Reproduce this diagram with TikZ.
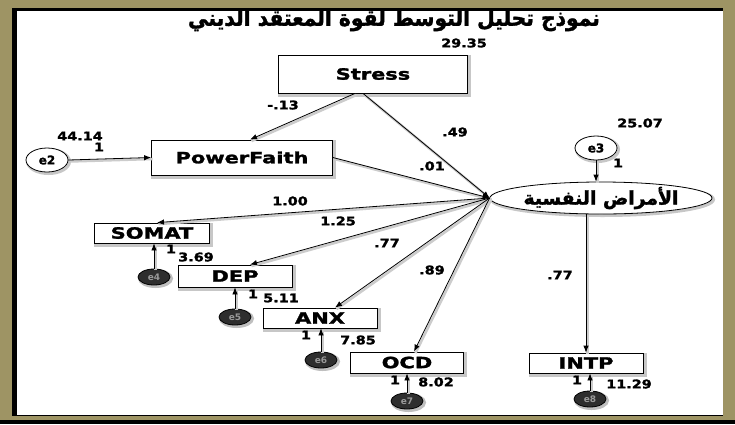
\documentclass[tikz,border=0pt]{standalone}
\usepackage{fontspec}
\usepackage{graphicx}
\setmainfont{DejaVu Sans}
\newfontfamily\heavy[FakeBold=1.6]{DejaVu Sans Bold}
\newfontfamily\arabicheavy[Script=Arabic,FakeBold=1.6]{DejaVu Sans Bold}
\TeXXeTstate=1
\usetikzlibrary{shapes.geometric,arrows.meta}
\definecolor{frameolive}{RGB}{158,148,100}
% horizontally stretched heavy lettering
\newcommand{\sx}[1]{\scalebox{1.35}[1]{\heavy #1}}
\newcommand{\nx}[1]{\scalebox{1.2}[1]{\heavy #1}}
\begin{document}
\begin{tikzpicture}[x=1pt,y=-1pt,
  box/.style={rectangle, draw, line width=0.8pt, inner sep=0pt, fill=white,
    font=\fontsize{15.5}{15.5}\selectfont,
    preaction={draw=black!22, line width=4pt, transform canvas={shift={(1.5pt,-1.5pt)}}}},
  errbig/.style={ellipse, draw, line width=0.8pt, fill=white, inner sep=0pt,
    minimum width=42pt, minimum height=24pt, font=\fontsize{12}{12}\selectfont,
    preaction={draw=black!22, line width=3pt, transform canvas={shift={(1.5pt,-1.5pt)}}}},
  errsm/.style={ellipse, draw, line width=0.8pt, fill=black!82, text=black!40, inner sep=0pt,
    minimum width=32pt, minimum height=16pt, font=\fontsize{9}{9}\bfseries,
    preaction={draw=black!25, line width=3pt, transform canvas={shift={(1.5pt,-1.5pt)}}}},
  num/.style={inner sep=0pt, font=\fontsize{12}{12}\selectfont},
  conn/.style={line width=0.8pt, -{Latex[length=7pt,width=5.5pt]},
    preaction={draw=black!20, line width=2.5pt, -, transform canvas={shift={(1.5pt,-1.5pt)}}}}
]
\useasboundingbox (0,0) rectangle (735,424);
% frame
\fill[frameolive] (0,0) rectangle (735,424);
\fill[black] (0,420) rectangle (735,424);
\fill[black] (12,8) rectangle (723,416);
\fill[white] (17,11) rectangle (723,415);

% title
\node[inner sep=0pt] (title) at (394,20)
  {\resizebox{412pt}{17pt}{\arabicheavy\beginR نموذج تحليل التوسط لقوة المعتقد الديني\endR}};

% observed and latent variables
\node[box, minimum width=189pt, minimum height=38pt] (stress) at (373,74) {\sx{Stress}};
\node[box, minimum width=181pt, minimum height=35pt] (pf) at (242,157.5) {\sx{PowerFaith}};
\node[ellipse, draw, line width=0.8pt, fill=white, inner sep=0pt,
  minimum width=222pt, minimum height=32pt,
  preaction={draw=black!22, line width=3pt, transform canvas={shift={(1.5pt,-1.5pt)}}}] (lat) at (601,198)
  {\resizebox{155pt}{!}{\arabicheavy\beginR الأمراض النفسية\endR}};
\node[box, minimum width=115pt, minimum height=20pt] (somat) at (152,233) {\sx{SOMAT}};
\node[box, minimum width=114pt, minimum height=22pt] (dep) at (235,276) {\sx{DEP}};
\node[box, minimum width=114pt, minimum height=20pt] (anx) at (320,318) {\sx{ANX}};
\node[box, minimum width=113pt, minimum height=21pt] (ocd) at (407,362.5) {\sx{OCD}};
\node[box, minimum width=114pt, minimum height=20pt] (intp) at (586,363) {\sx{INTP}};

% error terms
\node[errbig] (e2) at (47,160) {\heavy e2};
\node[errbig] (e3) at (596,148) {\heavy e3};
\node[errsm] (e4) at (154,277) {e4};
\node[errsm] (e5) at (235,317) {e5};
\node[errsm] (e6) at (321,360) {e6};
\node[errsm] (e7) at (407,401) {e7};
\node[errsm] (e8) at (590,399) {e8};

% structural paths
\draw[conn] ([xshift=-18pt]stress.south) -- ([xshift=8pt]pf.north);
\draw[conn] ([xshift=-10pt]stress.south) -- (lat.west);
\draw[conn] (pf.east) -- (lat.west);
\draw[conn] (e2.east) -- (pf.west);
\draw[conn] (e3.south) -- (e3.south |- lat.north);

% loadings
\draw[conn] (lat.west) -- ([xshift=5pt]somat.north);
\draw[conn] (lat.west) -- ([xshift=15pt]dep.north);
\draw[conn] (lat.west) -- ([xshift=15pt]anx.north);
\draw[conn] (lat.west) -- ([xshift=7pt]ocd.north);
\draw[conn] (intp.north |- lat.south) -- (intp.north);

% measurement errors
\draw[conn] (e4.north) -- (e4.north |- somat.south);
\draw[conn] (e5.north) -- (e5.north |- dep.south);
\draw[conn] (e6.north) -- (e6.north |- anx.south);
\draw[conn] (e7.north) -- (e7.north |- ocd.south);
\draw[conn] (e8.north) -- (e8.north |- intp.south);

% estimates
\node[num] (v1) at (464,43) {\nx{29.35}};
\node[num] (v2) at (80,136) {\nx{44.14}};
\node[num] (v3) at (99,147) {\nx{1}};
\node[num] (v4) at (640,123) {\nx{25.07}};
\node[num] (v5) at (618,163) {\nx{1}};
\node[num] (p1) at (283,105) {\nx{-.13}};
\node[num] (p2) at (455,132) {\nx{.49}};
\node[num] (p3) at (432,166) {\nx{.01}};
\node[num] (l1) at (290,201) {\nx{1.00}};
\node[num] (l2) at (338,221) {\nx{1.25}};
\node[num] (l3) at (387,243) {\nx{.77}};
\node[num] (l4) at (432,270) {\nx{.89}};
\node[num] (l5) at (560,275) {\nx{.77}};
\node[num] (r1) at (171,249) {\nx{1}};
\node[num] (r2) at (196,257) {\nx{3.69}};
\node[num] (r3) at (253,294) {\nx{1}};
\node[num] (r4) at (281,298) {\nx{5.11}};
\node[num] (r5) at (306,335) {\nx{1}};
\node[num] (r6) at (358,340) {\nx{7.85}};
\node[num] (r7) at (395,380) {\nx{1}};
\node[num] (r8) at (436,382) {\nx{8.02}};
\node[num] (r9) at (577,380) {\nx{1}};
\node[num] (r10) at (629,384) {\nx{11.29}};
\end{tikzpicture}
\end{document}
